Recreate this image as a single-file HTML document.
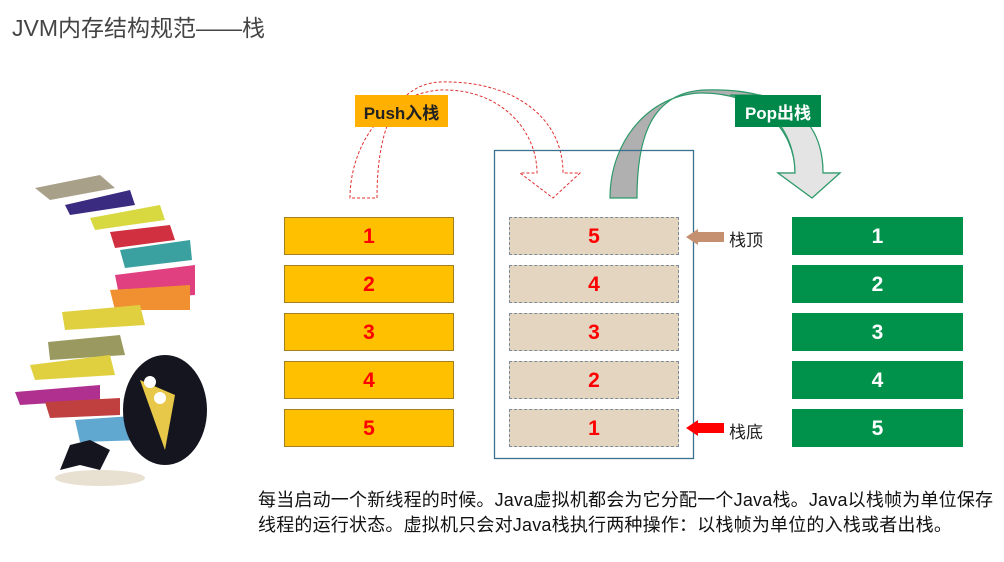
<!DOCTYPE html>
<html><head><meta charset="utf-8"><style>
body{margin:0;width:1004px;height:562px;background:#fff;position:relative;overflow:hidden;font-family:"Liberation Sans","Noto Sans CJK SC",sans-serif}
.a{position:absolute}
.b{position:absolute;height:38px;display:flex;align-items:center;justify-content:center;font-weight:bold;font-size:21px;box-sizing:border-box;padding-top:2px}
.o{left:284px;width:170px;background:#ffc000;border:1px solid #a08020;color:#f00}
.m{left:509px;width:170px;background:#e3d5c0;border:1px dashed #7a8a9a;color:#f00}
.g{left:792px;width:171px;background:#00914a;color:#fff}
.t{font-size:17px;color:#222}
</style></head><body>
<div class="a" style="left:12px;top:9px;font-size:23px;color:#444">JVM内存结构规范——栈</div>
<svg class="a" style="left:0;top:0" width="1004" height="562">
<path d="M350 198 C350 150 380 95 440 90 C500 88 537 130 537 173 L520 173 L553 198 L580 173 L563 173 C563 115 510 80 440 82 C390 85 377 140 377 198 Z" fill="#fff" stroke="#e03030" stroke-dasharray="3,2" stroke-width="1"/>
<path d="M610 198 C610 140 650 95 700 93 C760 92 795 130 795 173 L778 173 L812 198 L840 173 L823 173 C823 110 770 88 705 90 C650 92 637 140 637 198 Z" fill="#b0b0b0" stroke="#2e9a6a" stroke-width="1.2"/>
<path d="M730 95 C770 100 795 135 795 173 L778 173 L812 198 L840 173 L823 173 C823 130 800 105 760 95 Z" fill="#e4e4e4" stroke="#2e9a6a" stroke-width="1.2"/>
<rect x="494.5" y="150.5" width="199" height="308" fill="none" stroke="#3a7090" stroke-width="1.3"/>
<path d="M686 237 L698 229 L698 232 L724 232 L724 242 L698 242 L698 245 Z" fill="#c59070"/>
<path d="M686 428 L698 420 L698 423 L724 423 L724 433 L698 433 L698 436 Z" fill="#f00"/>
<g>
<polygon points="35,188 100,175 115,188 50,200" fill="#a9a08a"/>
<polygon points="65,205 130,190 135,205 70,215" fill="#3a2a80"/>
<polygon points="90,218 160,205 165,220 95,230" fill="#d8d840"/>
<polygon points="110,232 170,225 175,240 115,248" fill="#d03040"/>
<polygon points="120,250 190,240 192,260 125,268" fill="#3aa0a0"/>
<polygon points="115,275 195,265 195,295 120,300" fill="#e04080"/>
<polygon points="110,290 190,285 190,310 115,310" fill="#f09030"/>
<polygon points="62,312 140,305 145,325 65,330" fill="#e0d040"/>
<polygon points="48,342 120,335 125,355 50,360" fill="#9a9a60"/>
<polygon points="30,365 110,355 115,375 35,380" fill="#e0d040"/>
<polygon points="15,392 100,385 100,400 20,405" fill="#b03090"/>
<polygon points="45,402 120,398 120,415 50,418" fill="#c04040"/>
<polygon points="75,420 145,415 145,440 80,442" fill="#60a8d0"/>
<ellipse cx="165" cy="410" rx="42" ry="55" fill="#151520"/>
<polygon points="140,380 175,395 165,450" fill="#e8c848"/>
<circle cx="150" cy="382" r="6" fill="#fff"/><circle cx="160" cy="398" r="6" fill="#fff"/>
<path d="M70 445 L90 440 L110 450 L100 470 L80 465 L60 470 Z" fill="#151520"/>
<ellipse cx="100" cy="478" rx="45" ry="8" fill="#e8e0d0"/>
</g>
</svg>
<div class="a" style="left:355px;top:95px;width:93px;height:32px;background:#ffb000;font-size:17px;font-weight:bold;display:flex;align-items:center;justify-content:center;color:#222">Push入栈</div>
<div class="a" style="left:735px;top:95px;width:86px;height:32px;background:#00874a;font-size:17px;font-weight:bold;display:flex;align-items:center;justify-content:center;color:#fff">Pop出栈</div>
<div class="b o" style="top:217px">1</div><div class="b o" style="top:265px">2</div><div class="b o" style="top:313px">3</div><div class="b o" style="top:361px">4</div><div class="b o" style="top:409px">5</div>
<div class="b m" style="top:217px">5</div><div class="b m" style="top:265px">4</div><div class="b m" style="top:313px">3</div><div class="b m" style="top:361px">2</div><div class="b m" style="top:409px">1</div>
<div class="b g" style="top:217px">1</div><div class="b g" style="top:265px">2</div><div class="b g" style="top:313px">3</div><div class="b g" style="top:361px">4</div><div class="b g" style="top:409px">5</div>
<div class="a t" style="left:729px;top:226px">栈顶</div>
<div class="a t" style="left:729px;top:418px">栈底</div>
<div class="a" style="left:258px;top:488px;font-size:18px;letter-spacing:0.2px;line-height:25px;color:#111;white-space:nowrap">每当启动一个新线程的时候。Java虚拟机都会为它分配一个Java栈。Java以栈帧为单位保存<br>线程的运行状态。虚拟机只会对Java栈执行两种操作：以栈帧为单位的入栈或者出栈。</div>
</body></html>
